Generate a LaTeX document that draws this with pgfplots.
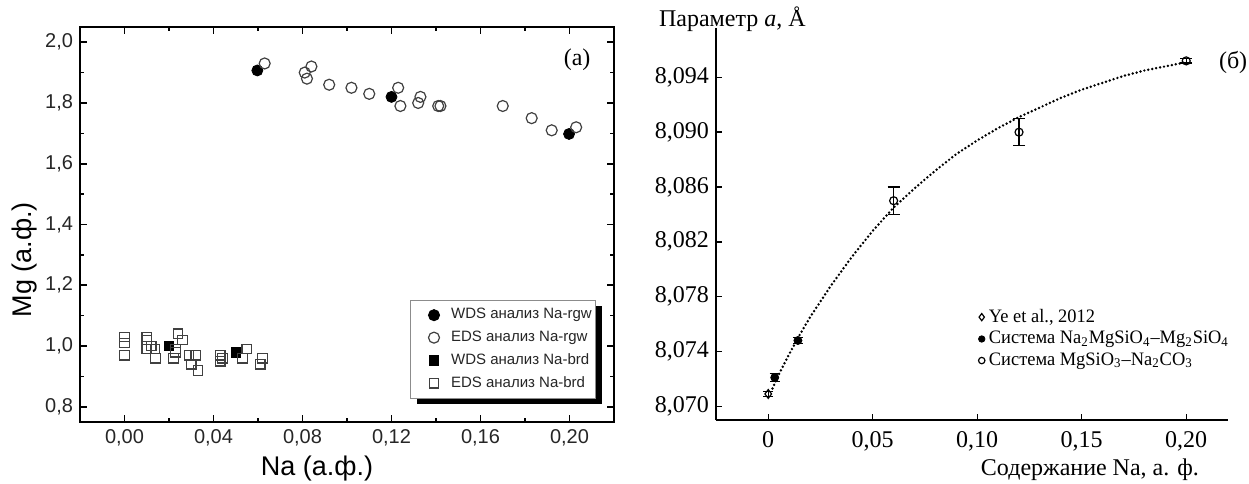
\documentclass[border=0pt]{standalone}
\usepackage{pgfplots}
\pgfplotsset{compat=1.18}
\usepackage{fontspec}
\setmainfont{Liberation Serif}
\setsansfont{Liberation Sans}
\newfontfamily\legfont{Liberation Serif}[FakeStretch=0.97]
\usetikzlibrary{shadows}
\begin{document}
\begin{tikzpicture}
\useasboundingbox (0,0) rectangle (624.5pt,241.5pt);
% ---------------- panel (a) ----------------
\begin{axis}[
  at={(40pt,30.5pt)}, anchor=south west, scale only axis,
  width=267pt, height=197.5pt,
  xmin=-0.02, xmax=0.22, ymin=0.75, ymax=2.05,
  xtick={0,0.04,0.08,0.12,0.16,0.20},
  xticklabels={{0,00},{0,04},{0,08},{0,12},{0,16},{0,20}},
  ytick={0.8,1.0,1.2,1.4,1.6,1.8,2.0},
  yticklabels={{0,8},{1,0},{1,2},{1,4},{1,6},{1,8},{2,0}},
  minor x tick num=1, minor y tick num=1,
  tick align=inside,
  major tick length=3.5pt, minor tick length=2pt,
  axis line style={line width=1pt},
  every tick/.style={line width=0.8pt, black},
  tick label style={font=\sffamily\fontsize{10}{12}\selectfont, text=black!85},
  xlabel={Na (а.ф.)},
  xlabel style={at={(rel axis cs:0.444,-0.119)}, anchor=center, font=\sffamily\fontsize{13.5}{16}\selectfont},
  ylabel={Mg (а.ф.)},
  ylabel style={at={(rel axis cs:-0.104,0.411)}, anchor=center, font=\sffamily\fontsize{13.5}{16}\selectfont},
  legend cell align=left,
  legend image code/.code={\path (-11.5pt,0pt) (6.3pt,0pt); \draw[mark repeat=2,mark phase=2,#1] plot coordinates {(-0.5pt,0pt)(0pt,0pt)(0.5pt,0pt)};},
  legend style={at={(rel axis cs:0.618,0.309)}, anchor=north west,
    draw=black!45, line width=0.5pt, fill=white,
    font=\sffamily\fontsize{7.5}{9}\selectfont, text=black!85,
    inner xsep=0pt, inner ysep=2pt, row sep=0.5pt,
    drop shadow={shadow xshift=3pt, shadow yshift=-3pt, fill=black, opacity=1}},
]
\addplot[only marks, mark=*, mark size=2.75pt, mark options={draw=black, fill=black}]
  coordinates {(0.0597,1.907) (0.120,1.82) (0.1998,1.698)};
\addlegendentry{WDS анализ Na-rgw}
\addplot[only marks, mark=o, mark size=2.75pt, mark options={draw=black!75, line width=0.6pt}]
  coordinates {(0.063,1.93) (0.081,1.90) (0.084,1.92) (0.082,1.88) (0.092,1.86)
   (0.102,1.85) (0.110,1.83) (0.123,1.85) (0.124,1.79) (0.132,1.80) (0.133,1.82)
   (0.141,1.79) (0.142,1.79) (0.170,1.79) (0.183,1.75) (0.192,1.71) (0.203,1.72)};
\addlegendentry{EDS анализ Na-rgw}
\addplot[only marks, mark=square*, mark size=2.4pt, mark options={draw=black, fill=black}]
  coordinates {(0.020,1.00) (0.050,0.98)};
\addlegendentry{WDS анализ Na-brd}
\addplot[only marks, mark=square, mark size=2.4pt, mark options={draw=black!75, line width=0.6pt}]
  coordinates {(0,1.03) (0,1.01) (0,0.97) (0.010,1.03) (0.010,1.02) (0.010,0.99)
   (0.012,1.00) (0.0137,0.99) (0.014,0.96) (0.022,0.96) (0.023,0.98) (0.023,0.99)
   (0.024,1.04) (0.026,1.02) (0.029,0.97) (0.030,0.94) (0.032,0.97) (0.033,0.92)
   (0.043,0.95) (0.043,0.97) (0.044,0.96) (0.053,0.96) (0.055,0.99) (0.061,0.94) (0.062,0.96)};
\addlegendentry{EDS анализ Na-brd}
\node[font=\rmfamily\fontsize{12}{14}\selectfont] at (rel axis cs:0.931,0.916) {(a)};
\end{axis}
% ---------------- panel (b) ----------------
\begin{axis}[
  at={(358pt,31.5pt)}, anchor=south west, scale only axis,
  width=256pt, height=196pt, clip=false,
  xmin=-0.025, xmax=0.22, ymin=8.069, ymax=8.0976,
  axis lines*=left, axis line style={line width=0.7pt, -},
  tick align=inside, major tick length=3pt,
  every tick/.style={line width=0.7pt, black},
  xtick={0,0.05,0.1,0.15,0.2},
  xticklabels={0,{0,05},{0,10},{0,15},{0,20}},
  ytick={8.070,8.074,8.078,8.082,8.086,8.090,8.094},
  yticklabels={{8,070},{8,074},{8,078},{8,082},{8,086},{8,090},{8,094}},
  tick label style={font=\rmfamily\fontsize{12}{14}\selectfont},
  xticklabel style={yshift=-2pt},
  xlabel={Содержание Na, а. ф.},
  xlabel style={at={(rel axis cs:0.957,-0.128)}, anchor=east, font=\rmfamily\fontsize{12}{14}\selectfont},
  legend cell align=left,
  legend image code/.code={\draw[mark repeat=2,mark phase=2,#1] plot coordinates {(0pt,0pt)(2.5pt,0pt)(5pt,0pt)};},
  legend style={at={(rel axis cs:0.512,0.302)}, anchor=north west, draw=none, fill=none,
    font=\legfont\fontsize{9.5}{11}\selectfont, inner xsep=0pt, row sep=0pt,
    nodes={inner ysep=1.5pt}},
]
\addplot[forget plot, black, line width=1.35pt, line cap=round, dash pattern=on 0pt off 2pt]
  coordinates {(0.002,8.0713) (0.005,8.0723) (0.010,8.0738) (0.015,8.0752) (0.020,8.0765)
   (0.030,8.0788) (0.040,8.0809) (0.050,8.0828) (0.060,8.0845) (0.070,8.0859)
   (0.080,8.0872) (0.090,8.0884) (0.100,8.0894) (0.110,8.0903) (0.120,8.0911)
   (0.130,8.0918) (0.140,8.0925) (0.150,8.0931) (0.160,8.0936) (0.170,8.0941)
   (0.180,8.0945) (0.190,8.0948) (0.200,8.0951)};
\addplot[only marks, mark=diamond, mark size=2.2pt, mark options={draw=black, fill=white, line width=0.6pt},
  legend image post style={mark size=1.8pt},
  error bars/.cd, y dir=both, y explicit,
  error bar style={line width=0.6pt, black}, error mark options={rotate=90, mark size=2.5pt, line width=0.6pt}]
  coordinates {(0,8.0709) +- (0,0.0002)};
\addlegendentry{Ye et al., 2012}
\addplot[only marks, mark=*, mark size=2pt, mark options={draw=black, fill=black},
  legend image post style={mark size=1.6pt},
  error bars/.cd, y dir=both, y explicit,
  error bar style={line width=0.6pt, black}, error mark options={rotate=90, mark size=2.5pt, line width=0.6pt}]
  coordinates {(0.0031,8.0721) +- (0,0.0003) (0.0142,8.0748) +- (0,0.0002)};
\addlegendentry{Система Na\textsubscript{2}MgSiO\textsubscript{4}–Mg\textsubscript{2}SiO\textsubscript{4}}
\addplot[only marks, mark=o, mark size=2pt, mark options={draw=black, fill=white, line width=0.6pt},
  legend image post style={mark size=1.6pt},
  error bars/.cd, y dir=both, y explicit,
  error bar style={line width=0.6pt, black}, error mark options={rotate=90, mark size=3pt, line width=0.6pt}]
  coordinates {(0.06,8.085) +- (0,0.001) (0.12,8.090) +- (0,0.001) (0.20,8.0952) +- (0,0.00015)};
\addlegendentry{Система MgSiO\textsubscript{3}–Na\textsubscript{2}CO\textsubscript{3}}
\node[anchor=base west, font=\rmfamily\fontsize{12}{14}\selectfont] at (rel axis cs:-0.125,1.003) {Параметр \textit{a}, Å};
\node[font=\rmfamily\fontsize{12}{14}\selectfont] at (rel axis cs:1.01,0.911) {(б)};
\end{axis}
\end{tikzpicture}
\end{document}
